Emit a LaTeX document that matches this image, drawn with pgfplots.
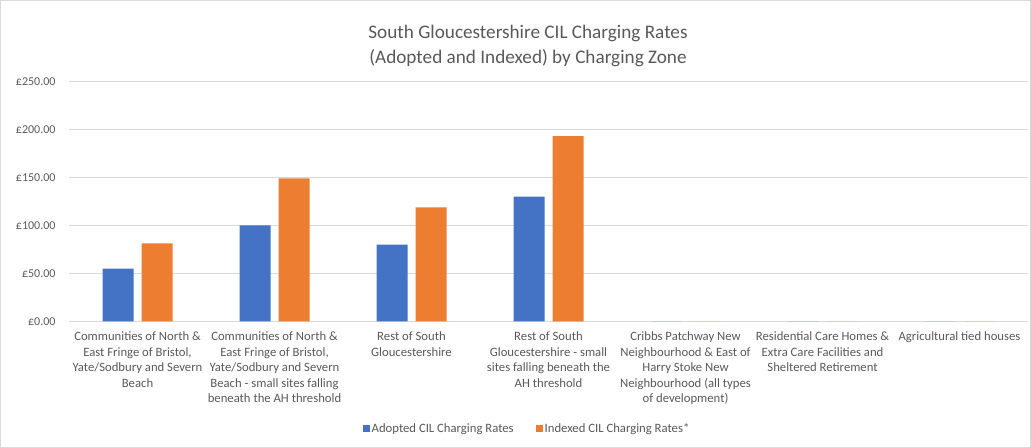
\documentclass[border=0pt]{standalone}
\usepackage{fontspec}
\setmainfont{Carlito}
\usepackage{pgfplots}
\pgfplotsset{compat=1.18}
\definecolor{cblue}{HTML}{4472C4}
\definecolor{corange}{HTML}{ED7D31}
\definecolor{txtgray}{HTML}{595959}
\definecolor{gridgray}{HTML}{D9D9D9}
\pgfplotsset{sqlegend/.style={legend image code/.code={\fill[##1] (0bp,-3.5bp) rectangle (7bp,3.5bp);}}}
\begin{document}
\begin{tikzpicture}
\draw[gridgray, line width=0.8bp] (0.5bp,0.5bp) rectangle (1030.5bp,447.5bp);
\node[align=center, text=txtgray, font=\fontsize{19.2bp}{25bp}\selectfont] at (528bp,402.5bp)
  {South Gloucestershire CIL Charging Rates\\(Adopted and Indexed) by Charging Zone};
\begin{axis}[
  at={(69bp,126.5bp)}, anchor=south west,
  scale only axis, width=959bp, height=240bp,
  xmin=-0.5, xmax=6.5, ymin=0, ymax=250,
  ybar=8bp, bar width=31bp,
  axis x line*=bottom, axis y line*=left,
  x axis line style={draw=gridgray, line width=0.8bp, -},
  y axis line style={draw=none},
  major tick length=0pt,
  ymajorgrids, grid style={draw=gridgray, line width=0.8bp},
  ytick={0,50,100,150,200,250},
  yticklabels={£0.00,£50.00,£100.00,£150.00,£200.00,£250.00},
  yticklabel style={font=\fontsize{12bp}{14bp}\selectfont, text=txtgray, xshift=-10bp},
  xtick={0,1,2,3,4,5,6},
  xticklabels={
    {Communities of North \&\\East Fringe of Bristol,\\Yate/Sodbury and Severn\\Beach},
    {Communities of North \&\\East Fringe of Bristol,\\Yate/Sodbury and Severn\\Beach - small sites falling\\beneath the AH threshold},
    {Rest of South\\Gloucestershire},
    {Rest of South\\Gloucestershire - small\\sites falling beneath the\\AH threshold},
    {Cribbs Patchway New\\Neighbourhood \& East of\\Harry Stoke New\\Neighbourhood (all types\\of development)},
    {Residential Care Homes \&\\Extra Care Facilities and\\Sheltered Retirement},
    {Agricultural tied houses}},
  xticklabel style={font=\fontsize{12.7bp}{15.4bp}\selectfont, text=txtgray, align=center, anchor=north, yshift=-7bp},
  legend style={at={(0.4776,-0.446)}, anchor=center, draw=none, legend columns=2,
    font=\fontsize{12.7bp}{14bp}\selectfont, text=txtgray,
    /tikz/every even column/.append style={column sep=20bp},
    legend cell align=left},
]
\addplot[fill=cblue, draw=none, sqlegend] coordinates {(0,55) (1,100) (2,80) (3,130) (4,0) (5,0) (6,0)};
\addplot[fill=corange, draw=none, sqlegend] coordinates {(0,81.5) (1,149) (2,119) (3,193) (4,0) (5,0) (6,0)};
\legend{Adopted CIL Charging Rates, Indexed CIL Charging Rates*}
\end{axis}
\pgfresetboundingbox
\path[use as bounding box] (0,0) rectangle (1031bp,448bp);
\end{tikzpicture}
\end{document}
